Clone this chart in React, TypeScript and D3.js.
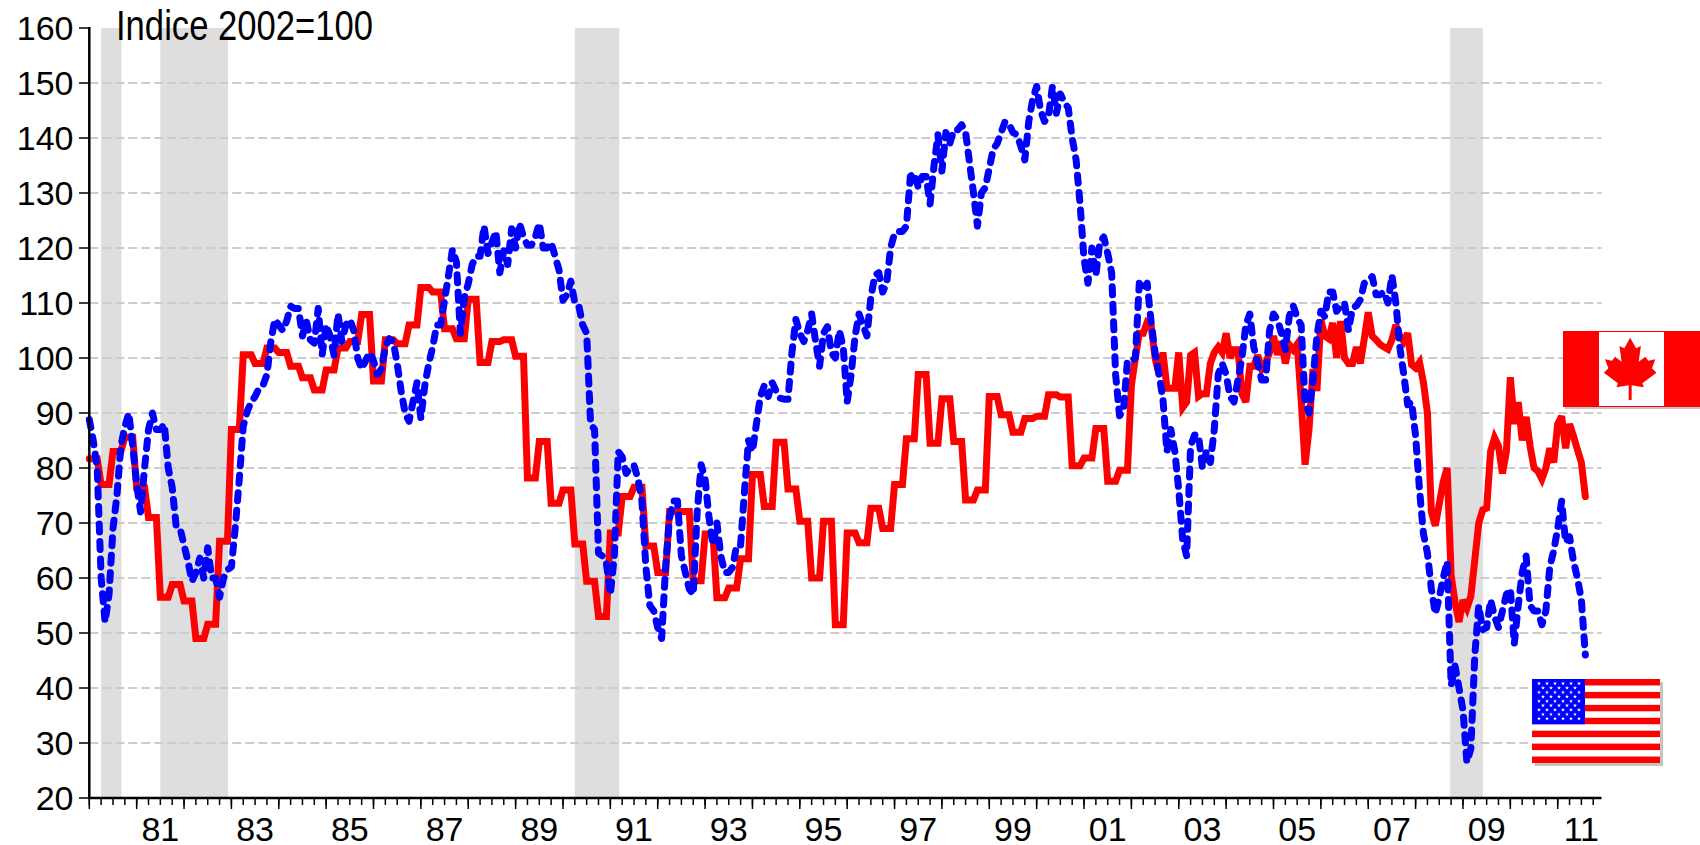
import React from "react";
import * as d3 from "d3";

const FONT = "'Liberation Sans', Arial, sans-serif";

// US index: monthly from Jan 1980
const usIndex: number[] = [
  88.8,85,80,60,52,57,69,75,84,87.5,90,84,
  77,72,80,87,90,87,87,88,80,76.5,69.4,69,
  66,63,59.4,61,63.6,60,65.5,60,60,56.5,60,61.5,
  62,69.4,78,87.6,90.3,92,93,94.5,95,97,103,107,
  106,105,106.7,109.4,109,109,104,106.7,103.3,102.7,109,100.6,
  106,104,100.5,108,103,106,107,105,100,98,99.5,101,
  99.5,97,98,102,103.5,103,99,94,90,88.5,92,95.5,
  89,95,99,102,106,106,110.5,115,119.7,117.5,104.5,111,
  113.5,117,118.5,118.5,124,119,121,123,115.5,119.5,117,123.5,
  120,124.5,122,120.5,120.5,122,124.5,120,120,121,118.5,116,
  110.5,111.5,114,110,109.5,106,104.5,88,87,64.5,64,62.7,
  57,64,83,82,79,80,80.5,78,74,62,55,54,
  51,49,62,71,74,74,64,61,58,57,72,80.6,
  78,71,66,70,64,61,61,62,66,66,76,85,
  83,88,93,95,93,95.5,94,92.7,92.5,92.5,101,107,
  104.5,103,105,108,103,98.5,104.5,105.7,101,100,105,102,
  92,97,104,108,106,104,111,115,115.5,112,113.6,120,
  122.7,123,123,124,133,133.6,131,133,133,128,135,140.6,
  134,141,139,141.5,141.5,142.4,141,135.5,130,124,130,131,
  134.5,138,139,141,143,142.5,141,140.6,138.5,136,143,147,
  149.4,145,143,144,149.4,144.5,148,146.5,145.5,140,136,128,
  118,113.6,120,115,121,122,119,115.5,97,89.5,90.5,99.5,
  99.5,100,113.6,112.5,113.6,106.5,101,97,92.5,83,87,83,
  76,67,64,84,86,86,80,83,81,87,97,99,
  97,93,92,96,100,106,108,102,99,96,96,105,
  108,107,104.5,101.5,107.6,109.5,107.3,106,92,90,96,104,
  108.5,107.5,112,112,108.5,109.5,110,105,109,109.5,110.6,113.6,
  114,114.8,111.5,111.5,112,110,115,110,102,97,91.5,92,
  85.8,76,68,64.5,58,53.5,56.5,60,63,40.5,44,40,
  36,26.5,29,46,55,50.6,51,56,53,51,54,57,
  58,48,55,61,64,55,54,54,51.5,54,62,65,
  69,74,66.5,67.5,63,60,56,46,
];

// Canada index: quarterly readings 1980-2001
const canadaQuarterly: number[] = [
  81.7,77,83,85.6,
  76.4,71,56.5,58.8,
  55.8,49,51.6,66.7,
  87,100.6,99,101.8,
  101,98.5,96.4,94.2,
  97.8,101.8,103,107.9,
  95.8,103.3,102.6,106,
  112.8,112,105.3,103.5,
  110.7,99.2,103,103.3,
  100.3,78.2,84.8,73.6,
  76,66.2,59.4,53,
  68.2,74.8,76.5,65.8,
  61,72.1,72.1,59.5,
  68,56.4,58.2,63.5,
  78.8,73,84.7,76.2,
  70.3,60,70.3,51.5,
  68.2,66.4,72.7,69,
  77,85.3,97,84.5,
  92.6,84.8,74.2,76,
  93,89.7,86.5,89,
  89.4,93.3,92.9,80.4,
  81.8,87.2,77.6,79.6,
];

// Canada index: monthly readings from Jan 2002
const canadaMonthly: number[] = [
  95,100,104.5,104.5,106.5,106,100,97,101,94.5,94.5,94.5,
  101,91,92,100.5,101,93,93.5,93.5,99,101,102,101,
  104.5,100,101.5,101.5,93.5,92,98.5,98.5,100.5,98,99,101,
  104,100.6,103,99,102.4,101.5,102.5,92.5,80.6,87,98,94,
  107,104,103.5,106.4,100,106.7,100,99,99,102,99,103.5,
  108.3,104,103.3,102.5,102,101.6,103.3,106,104,103,104.5,98.8,
  98.2,99.2,95.5,90,72,69.5,73.5,77.5,80,60.5,55.5,52,
  56,54.5,56.7,63.3,70,72.4,72.7,83,85.5,84,79,83,
  96.5,88,92,85,89.3,84,80,79.4,78,80,83.6,81,
  88,89.4,83.6,88,85.8,83.3,81,74.8,
];

const recessions: [number, number][] = [
  [1980.25, 1980.68],
  [1981.5, 1982.93],
  [1990.25, 1991.19],
  [2008.73, 2009.42],
];

const yTicks = d3.range(20, 161, 10);
const yearTicks = d3.range(1980, 2012);
const yearLabels = yearTicks.filter((y) => y % 2 === 1 && y >= 1981);
const quarterTicks = d3.range(1980, 2011.9, 0.25);

const canadaSeries: number[] = [...canadaQuarterly.flatMap((v) => [v, v, v]), ...canadaMonthly];

const MAPLE_LEAF: [number, number][] = [
  [1379,293],[1395,325],[1408,318],[1402,365],[1420,350],[1428,362],[1447,358],[1438,385],[1450,398],
  [1412,430],[1416,442],[1383,436],[1383,480],[1375,480],[1375,436],[1342,442],[1346,430],[1308,398],
  [1320,385],[1311,358],[1330,362],[1338,350],[1356,365],[1350,318],[1363,325],
];

function CanadaFlag() {
  const x0 = 1563, y0 = 331, w = 137, h = 76;
  const leaf = MAPLE_LEAF.map(([a, b]) => `${a / 2.703 + 1120},${b / 3 + 240}`).join(" ");
  return (
    <g>
      <rect x={x0 + 2} y={y0 + 2} width={w} height={h} fill="#c4c4c4" />
      <rect x={x0} y={y0} width={w} height={h} fill="#ff0000" />
      <rect x={1599} y={y0 + 1} width={65} height={h - 2} fill="#ffffff" />
      <polygon points={leaf} fill="#ff0000" />
    </g>
  );
}

function USFlag() {
  const x0 = 1532, y0 = 679, w = 128, h = 84, stripe = h / 13, cw = 53, ch = stripe * 7;
  const star = d3.symbol(d3.symbolStar, 5)() as string;
  const stars: [number, number][] = [];
  d3.range(9).forEach((r) => {
    const n = r % 2 === 0 ? 6 : 5;
    d3.range(n).forEach((c) => {
      stars.push([x0 + 7 + c * 8 + (r % 2 === 0 ? 0 : 4), y0 + 4.5 + r * 4.4]);
    });
  });
  return (
    <g>
      <rect x={x0 + 3} y={y0 + 3} width={w} height={h} fill="#c4c4c4" />
      <rect x={x0} y={y0} width={w} height={h} fill="#ffffff" />
      {d3.range(0, 13, 2).map((i) => (
        <rect key={i} x={x0} y={y0 + i * stripe} width={w} height={stripe} fill="#ff0000" />
      ))}
      <rect x={x0} y={y0} width={cw} height={ch} fill="#0000ff" />
      {stars.map(([x, y], i) => (
        <path key={i} d={star} transform={`translate(${x},${y})`} fill="#ffffff" />
      ))}
    </g>
  );
}

export default function App() {
  const x = d3.scaleLinear().domain([1980, 2011]).range([89.3, 1557.7]);
  const y = d3.scaleLinear().domain([20, 160]).range([798, 28]);
  const xEnd = 1601.5;
  const monthLine = d3
    .line<number>()
    .x((_, i) => x(1980 + i / 12))
    .y((d) => y(d))
    .curve(d3.curveLinear);

  return (
    <svg
      width={1700}
      height={845}
      style={{ position: "absolute", left: 0, top: 0, display: "block", background: "#fff" }}
      fontFamily={FONT}
    >
      {recessions.map(([a, b], i) => (
        <rect key={i} x={x(a)} y={y(160)} width={x(b) - x(a)} height={y(20) - y(160)} fill="#dedede" />
      ))}
      {yTicks
        .filter((t) => t > 20 && t < 160)
        .map((t) => (
          <line key={t} x1={x(1980)} x2={xEnd} y1={y(t)} y2={y(t)} stroke="#cccccc" strokeWidth={2} strokeDasharray="9 4" />
        ))}

      <path d={monthLine(canadaSeries) as string} fill="none" stroke="#ff0000" strokeWidth={7} strokeLinejoin="miter" strokeMiterlimit={3} strokeLinecap="round" />
      <path d={monthLine(usIndex) as string} fill="none" stroke="#0000ff" strokeWidth={7} strokeLinecap="round" strokeLinejoin="round" strokeDasharray="8 9.5" />

      <line x1={x(1980)} x2={x(1980)} y1={y(160) - 1} y2={y(20) + 1} stroke="#000" strokeWidth={2.5} />
      <line x1={x(1980)} x2={xEnd} y1={y(20)} y2={y(20)} stroke="#000" strokeWidth={2.5} />
      {yTicks.map((t) => (
        <g key={t}>
          <line x1={79} x2={x(1980)} y1={y(t)} y2={y(t)} stroke="#000" strokeWidth={1.5} />
          <text x={73.5} y={y(t)} dy="0.36em" textAnchor="end" fontSize={34} fill="#000">
            {t}
          </text>
        </g>
      ))}
      {quarterTicks.map((t) => (
        <line key={t} x1={x(t)} x2={x(t)} y1={y(20)} y2={y(20) + 7} stroke="#000" strokeWidth={1.5} />
      ))}
      {yearTicks.map((t) => (
        <line key={t} x1={x(t)} x2={x(t)} y1={y(20)} y2={y(20) + 11} stroke="#000" strokeWidth={1.5} />
      ))}
      {yearLabels.map((t) => (
        <text key={t} x={x(t + 0.5)} y={841} textAnchor="middle" fontSize={34} fill="#000">
          {String(t % 100).padStart(2, "0")}
        </text>
      ))}
      <text x={116} y={40} fontSize={42} fill="#000" textLength={257} lengthAdjust="spacingAndGlyphs">
        Indice 2002=100
      </text>

      <CanadaFlag />
      <USFlag />
    </svg>
  );
}
